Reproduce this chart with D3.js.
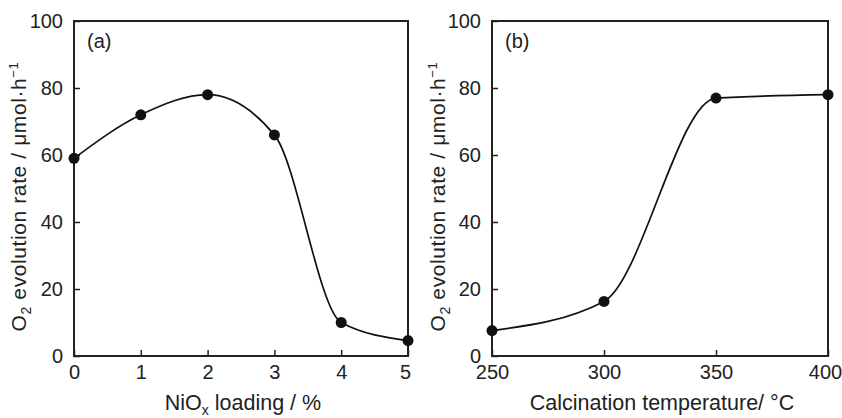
<!DOCTYPE html>
<html>
<head>
<meta charset="utf-8">
<script src="https://cdn.jsdelivr.net/npm/d3@7"></script>
<style>
  body { margin: 0; background: #fff; }
  text { font-family: "Liberation Sans", Arial, sans-serif; fill: #222; }
</style>
</head>
<body>
<div id="chart"></div>
<script>
// panel (a): NiOx loading
const loading = [0, 1, 2, 3, 4, 5]
const rateA = [59, 72, 78, 66, 10, 4.6]
// panel (b): calcination temperature
const temps = [250, 300, 350, 400]
const rateB = [7.6, 16.3, 77, 78]

const yTicks = [0, 20, 40, 60, 80, 100]
const xTicksA = [0, 1, 2, 3, 4, 5]
const xTicksB = [250, 300, 350, 400]

const width = 842, height = 418

const svg = d3.select("#chart")
  .append("svg")
  .attr("width", width)
  .attr("height", height)

const panel = (opts) => {
  const { left, right, xs, ys, xDomain, xTicks, tag, xLabel, yLabelX } = opts
  const top = 21, bottom = 356

  const x = d3.scaleLinear().domain(xDomain).range([left, right])
  const y = d3.scaleLinear().domain([0, 100]).range([bottom, top])

  const g = svg.append("g")

  // left axis, ticks inward
  g.append("g")
    .attr("transform", `translate(${left},0)`)
    .call(d3.axisLeft(y).tickValues(yTicks).tickSize(-6).tickPadding(11).tickFormat(d3.format("d")))
    .call(a => a.select(".domain").remove())
    .call(a => a.selectAll("text").style("font-size", "20px"))
    .call(a => a.selectAll("line").attr("stroke", "#222").attr("stroke-width", 1.5))

  // bottom axis, ticks inward
  g.append("g")
    .attr("transform", `translate(0,${bottom})`)
    .call(d3.axisBottom(x).tickValues(xTicks).tickSize(-6).tickPadding(9).tickFormat(d3.format("d")))
    .call(a => a.select(".domain").remove())
    .call(a => a.selectAll("text").style("font-size", "20px"))
    .call(a => a.selectAll("line").attr("stroke", "#222").attr("stroke-width", 1.5))
    .call(a => a.selectAll(".tick").filter(d => d === xDomain[1]).select("text").attr("x", -3))

  // frame
  g.append("rect")
    .attr("x", left).attr("y", top)
    .attr("width", right - left).attr("height", bottom - top)
    .attr("fill", "none").attr("stroke", "#222").attr("stroke-width", 2)

  const data = xs.map((d, i) => ({ x: d, y: ys[i] }))

  g.append("path")
    .datum(data)
    .attr("fill", "none")
    .attr("stroke", "#111")
    .attr("stroke-width", 1.7)
    .attr("d", d3.line().x(d => x(d.x)).y(d => y(d.y)).curve(d3.curveMonotoneX))

  g.selectAll("circle")
    .data(data)
    .join("circle")
    .attr("cx", d => x(d.x))
    .attr("cy", d => y(d.y))
    .attr("r", 5.5)
    .attr("fill", "#111")

  g.append("text")
    .attr("x", left + 13).attr("y", 48)
    .style("font-size", "20px")
    .text(tag)

  // x label
  const xl = g.append("text")
    .attr("x", (left + right) / 2 + 2).attr("y", 410)
    .attr("text-anchor", "middle")
    .style("font-size", "21.5px")
  xLabel(xl)

  // y label
  const yl = g.append("text")
    .attr("transform", `translate(${yLabelX},${(top + bottom) / 2 + 8}) rotate(-90)`)
    .attr("text-anchor", "middle")
    .style("font-size", "21px")
    .style("letter-spacing", "0.6px")
  yl.append("tspan").text("O")
  yl.append("tspan").text("2").style("font-size", "14px").attr("baseline-shift", "-5")
  yl.append("tspan").text(" evolution rate / μmol·h")
  yl.append("tspan").text("−1").style("font-size", "13px").attr("baseline-shift", "8")
}

panel({
  left: 74, right: 408, xs: loading, ys: rateA, xDomain: [0, 5], xTicks: xTicksA,
  tag: "(a)", yLabelX: 26,
  xLabel: t => {
    t.append("tspan").text("NiO")
    t.append("tspan").text("x").style("font-size", "14px").attr("baseline-shift", "-5")
    t.append("tspan").text(" loading / %")
  }
})

panel({
  left: 492, right: 828, xs: temps, ys: rateB, xDomain: [250, 400], xTicks: xTicksB,
  tag: "(b)", yLabelX: 445,
  xLabel: t => t.text("Calcination temperature/ °C")
})
</script>
</body>
</html>
